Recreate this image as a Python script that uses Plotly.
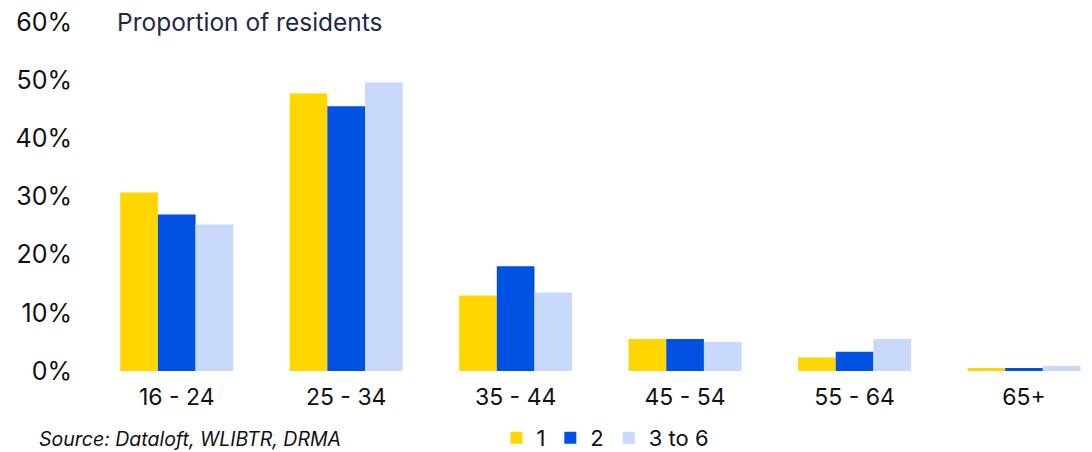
import plotly.graph_objects as go

categories = ["16 - 24", "25 - 34", "35 - 44", "45 - 54", "55 - 64", "65+"]
series_names = ["1", "2", "3 to 6"]
values_1 = [30.7, 47.7, 13.0, 5.5, 2.3, 0.5]
values_2 = [26.9, 45.5, 18.0, 5.5, 3.3, 0.5]
values_3 = [25.2, 49.6, 13.5, 5.0, 5.5, 0.9]
colors = ["#FFD600", "#0052E2", "#C8D9FC"]
y_ticks = [0, 10, 20, 30, 40, 50, 60]
y_tick_labels = ["0%", "10%", "20%", "30%", "40%", "50%", "60%"]

FONT = "Inter, Noto Sans, sans-serif"

fig = go.Figure()
for name, vals, col in zip(series_names, [values_1, values_2, values_3], colors):
    fig.add_trace(go.Bar(
        x=categories, y=vals, name=name,
        marker=dict(color=col, line=dict(width=0)),
        hoverinfo="skip",
    ))

fig.update_layout(
    width=1092, height=452,
    margin=dict(l=92, r=7, t=22, b=81, autoexpand=False),
    paper_bgcolor="white", plot_bgcolor="white",
    barmode="group", bargap=0.333, bargroupgap=0,
    font=dict(family=FONT, size=22, color="#111111"),
    showlegend=True,
    legend=dict(
        orientation="h", x=0.517, xanchor="center",
        y=-0.192, yanchor="middle",
        font=dict(size=22, color="#111111"),
        itemwidth=30, traceorder="normal",
        bgcolor="rgba(0,0,0,0)", borderwidth=0,
    ),
    xaxis=dict(
        type="category", categoryorder="array", categoryarray=categories,
        range=[-0.5, 5.36], automargin=False,
        showgrid=False, showline=False, zeroline=False,
        ticks="", ticklabelstandoff=10,
        tickfont=dict(size=23, color="#111111"),
    ),
    yaxis=dict(
        range=[0, 60], automargin=False,
        tickvals=y_ticks, ticktext=y_tick_labels,
        showgrid=False, showline=False, zeroline=False,
        ticks="", ticklabelstandoff=19,
        tickfont=dict(size=25, color="#111111"),
    ),
)

fig.add_annotation(
    text="Proportion of residents",
    xref="paper", yref="paper", x=(115 - 92) / 993, y=1.0,
    xanchor="left", yanchor="middle", showarrow=False,
    font=dict(family=FONT, size=24.5, color="#1E2A45"),
)
fig.add_annotation(
    text="<i>Source: Dataloft, WLIBTR, DRMA</i>",
    xref="paper", yref="paper", x=(37 - 92) / 993, y=-(439 - 371) / 349,
    xanchor="left", yanchor="middle", showarrow=False,
    font=dict(family=FONT, size=19.5, color="#111111"),
)

fig.write_html(
    "out.html",
    config={"displayModeBar": False},
    post_script="document.body.style.margin='0';document.body.style.overflow='hidden';",
)
